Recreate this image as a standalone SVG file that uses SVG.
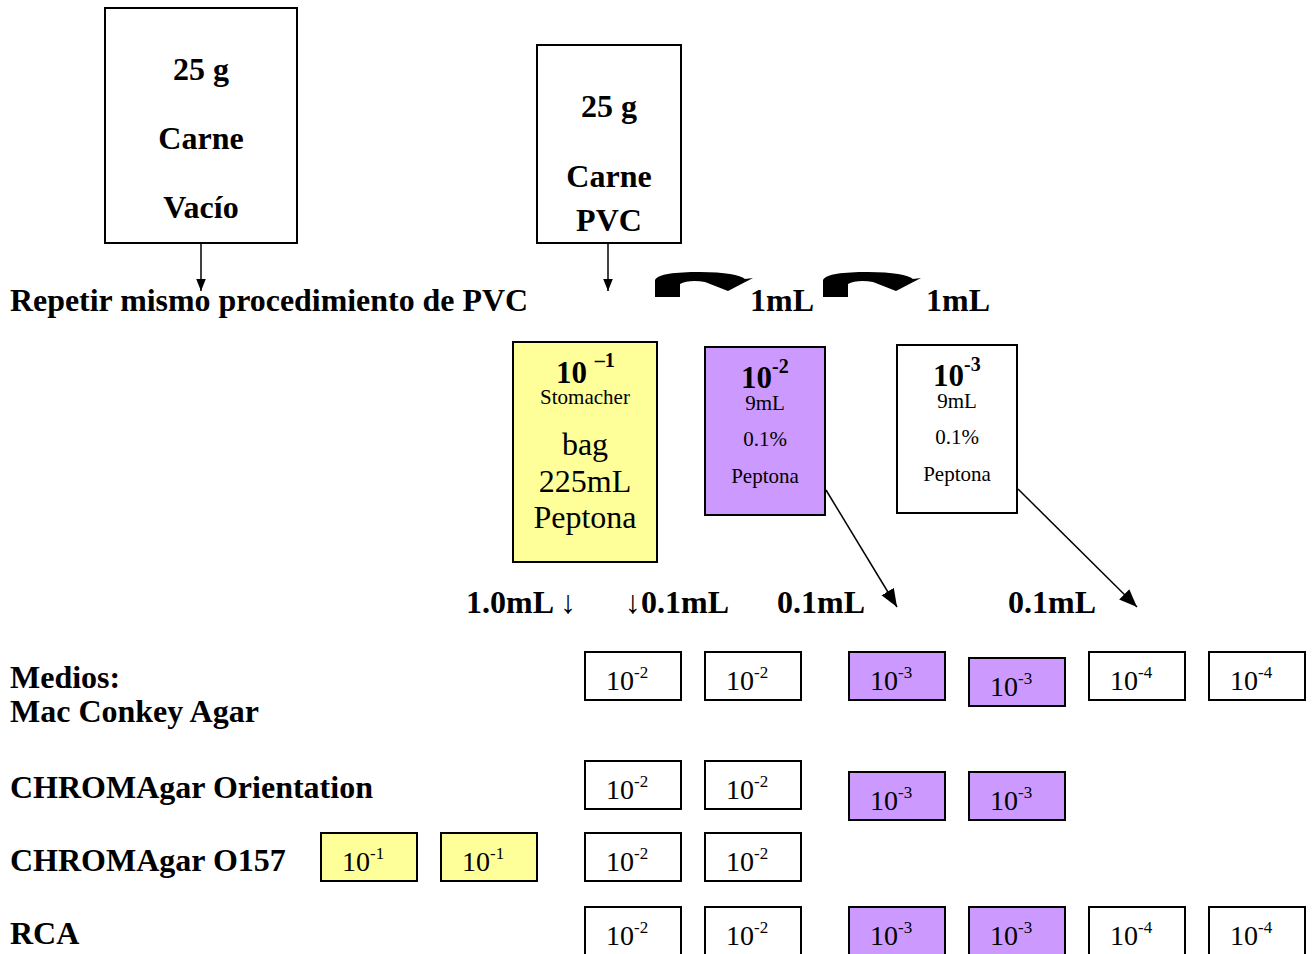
<svg xmlns="http://www.w3.org/2000/svg" width="1313" height="954" viewBox="0 0 1313 954">
<style>
.b{font-family:"Liberation Serif","Times New Roman",serif;font-weight:bold;fill:#000}
.r{font-family:"Liberation Serif","Times New Roman",serif;fill:#000}
.box{stroke:#000;stroke-width:2}
.w{fill:#fff}.y{fill:#FFFF99}.p{fill:#CC99FF}
.ln{stroke:#000;stroke-width:1.5;fill:none}
.s{font-size:17px}
.n{font-size:28px}
</style>
<defs>
<marker id="ah" viewBox="0 0 10 8" refX="10" refY="4" markerWidth="12" markerHeight="10" markerUnits="userSpaceOnUse" orient="auto"><path d="M0,0L10,4L0,8Z" fill="#000"/></marker>
<marker id="ah2" viewBox="0 0 10 8" refX="10" refY="4" markerWidth="18" markerHeight="15" markerUnits="userSpaceOnUse" orient="auto"><path d="M0,0L10,4L0,8Z" fill="#000"/></marker>
<path id="curl" d="M0,25 L0,8 C3,2 20,0 45,0 C70,0 85,3 90,7 L98,6 L73,19 L50,10 C40,8 30,9 25,12 L25,25 Z" fill="#000"/>
</defs>

<g id="connectors">
<line class="ln" x1="201" y1="243" x2="201" y2="291" marker-end="url(#ah)"/>
<line class="ln" x1="608" y1="243" x2="608" y2="291" marker-end="url(#ah)"/>
<use href="#curl" x="655" y="272"/>
<use href="#curl" x="823" y="272"/>
<line class="ln" x1="826" y1="490" x2="897" y2="607" marker-end="url(#ah2)"/>
<line class="ln" x1="1018" y1="489" x2="1137" y2="607" marker-end="url(#ah2)"/>
</g>

<g id="sample-vacio">
<rect class="box w" x="105" y="8" width="192" height="235"/>
<text class="b" x="201" y="80" font-size="32" text-anchor="middle">25 g</text>
<text class="b" x="201" y="149" font-size="32" text-anchor="middle">Carne</text>
<text class="b" x="201" y="218" font-size="32" text-anchor="middle">Vacío</text>
</g>

<g id="sample-pvc">
<rect class="box w" x="537" y="45" width="144" height="198"/>
<text class="b" x="609" y="117" font-size="32" text-anchor="middle">25 g</text>
<text class="b" x="609" y="187" font-size="32" text-anchor="middle">Carne</text>
<text class="b" x="609" y="231" font-size="32" text-anchor="middle">PVC</text>
</g>

<g id="labels-top">
<text class="b" x="10" y="311" font-size="32" textLength="518" lengthAdjust="spacingAndGlyphs">Repetir mismo procedimiento de PVC</text>
<text class="b" x="750" y="311" font-size="32">1mL</text>
<text class="b" x="926" y="311" font-size="32">1mL</text>
</g>

<g id="tube-1">
<rect class="box y" x="513" y="342" width="144" height="220"/>
<text class="b" x="556" y="383" font-size="31">10 <tspan font-size="20" dy="-16">–1</tspan></text>
<text class="r" x="585" y="404" font-size="21" text-anchor="middle">Stomacher</text>
<text class="r" x="585" y="455" font-size="32" text-anchor="middle">bag</text>
<text class="r" x="585" y="492" font-size="32" text-anchor="middle">225mL</text>
<text class="r" x="585" y="528" font-size="32" text-anchor="middle">Peptona</text>
</g>

<g id="tube-2">
<rect class="box p" x="705" y="347" width="120" height="168"/>
<text class="b" x="741" y="388" font-size="31">10<tspan font-size="20" dy="-15">-2</tspan></text>
<text class="r" x="765" y="410" font-size="21" text-anchor="middle">9mL</text>
<text class="r" x="765" y="446" font-size="21" text-anchor="middle">0.1%</text>
<text class="r" x="765" y="483" font-size="21" text-anchor="middle">Peptona</text>
</g>

<g id="tube-3">
<rect class="box w" x="897" y="345" width="120" height="168"/>
<text class="b" x="933" y="386" font-size="31">10<tspan font-size="20" dy="-15">-3</tspan></text>
<text class="r" x="957" y="408" font-size="21" text-anchor="middle">9mL</text>
<text class="r" x="957" y="444" font-size="21" text-anchor="middle">0.1%</text>
<text class="r" x="957" y="481" font-size="21" text-anchor="middle">Peptona</text>
</g>

<g id="volume-labels">
<text class="b" x="466" y="613" font-size="32">1.0mL <tspan font-weight="normal">↓</tspan></text>
<text class="b" x="625" y="613" font-size="32"><tspan font-weight="normal">↓</tspan>0.1mL</text>
<text class="b" x="777" y="613" font-size="32">0.1mL</text>
<text class="b" x="1008" y="613" font-size="32">0.1mL</text>
</g>

<g id="media-labels">
<text class="b" x="10" y="688" font-size="32">Medios:</text>
<text class="b" x="10" y="722" font-size="32">Mac Conkey Agar</text>
<text class="b" x="10" y="798" font-size="32">CHROMAgar Orientation</text>
<text class="b" x="10" y="871" font-size="32">CHROMAgar O157</text>
<text class="b" x="10" y="944" font-size="32">RCA</text>
</g>

<g id="row-macconkey">
<g id="mc-1"><rect class="box w" x="585" y="652" width="96" height="48"/><text class="r n" x="606" y="690">10<tspan class="s" dy="-12">-2</tspan></text></g>
<g id="mc-2"><rect class="box w" x="705" y="652" width="96" height="48"/><text class="r n" x="726" y="690">10<tspan class="s" dy="-12">-2</tspan></text></g>
<g id="mc-3"><rect class="box p" x="849" y="652" width="96" height="48"/><text class="r n" x="870" y="690">10<tspan class="s" dy="-12">-3</tspan></text></g>
<g id="mc-4"><rect class="box p" x="969" y="658" width="96" height="48"/><text class="r n" x="990" y="696">10<tspan class="s" dy="-12">-3</tspan></text></g>
<g id="mc-5"><rect class="box w" x="1089" y="652" width="96" height="48"/><text class="r n" x="1110" y="690">10<tspan class="s" dy="-12">-4</tspan></text></g>
<g id="mc-6"><rect class="box w" x="1209" y="652" width="96" height="48"/><text class="r n" x="1230" y="690">10<tspan class="s" dy="-12">-4</tspan></text></g>
</g>

<g id="row-orientation">
<g id="or-1"><rect class="box w" x="585" y="761" width="96" height="48"/><text class="r n" x="606" y="799">10<tspan class="s" dy="-12">-2</tspan></text></g>
<g id="or-2"><rect class="box w" x="705" y="761" width="96" height="48"/><text class="r n" x="726" y="799">10<tspan class="s" dy="-12">-2</tspan></text></g>
<g id="or-3"><rect class="box p" x="849" y="772" width="96" height="48"/><text class="r n" x="870" y="810">10<tspan class="s" dy="-12">-3</tspan></text></g>
<g id="or-4"><rect class="box p" x="969" y="772" width="96" height="48"/><text class="r n" x="990" y="810">10<tspan class="s" dy="-12">-3</tspan></text></g>
</g>

<g id="row-o157">
<g id="o1"><rect class="box y" x="321" y="833" width="96" height="48"/><text class="r n" x="342" y="871">10<tspan class="s" dy="-12">-1</tspan></text></g>
<g id="o2"><rect class="box y" x="441" y="833" width="96" height="48"/><text class="r n" x="462" y="871">10<tspan class="s" dy="-12">-1</tspan></text></g>
<g id="o3"><rect class="box w" x="585" y="833" width="96" height="48"/><text class="r n" x="606" y="871">10<tspan class="s" dy="-12">-2</tspan></text></g>
<g id="o4"><rect class="box w" x="705" y="833" width="96" height="48"/><text class="r n" x="726" y="871">10<tspan class="s" dy="-12">-2</tspan></text></g>
</g>

<g id="row-rca">
<g id="rca-1"><rect class="box w" x="585" y="907" width="96" height="60"/><text class="r n" x="606" y="945">10<tspan class="s" dy="-12">-2</tspan></text></g>
<g id="rca-2"><rect class="box w" x="705" y="907" width="96" height="60"/><text class="r n" x="726" y="945">10<tspan class="s" dy="-12">-2</tspan></text></g>
<g id="rca-3"><rect class="box p" x="849" y="907" width="96" height="60"/><text class="r n" x="870" y="945">10<tspan class="s" dy="-12">-3</tspan></text></g>
<g id="rca-4"><rect class="box p" x="969" y="907" width="96" height="60"/><text class="r n" x="990" y="945">10<tspan class="s" dy="-12">-3</tspan></text></g>
<g id="rca-5"><rect class="box w" x="1089" y="907" width="96" height="60"/><text class="r n" x="1110" y="945">10<tspan class="s" dy="-12">-4</tspan></text></g>
<g id="rca-6"><rect class="box w" x="1209" y="907" width="96" height="60"/><text class="r n" x="1230" y="945">10<tspan class="s" dy="-12">-4</tspan></text></g>
</g>
</svg>
